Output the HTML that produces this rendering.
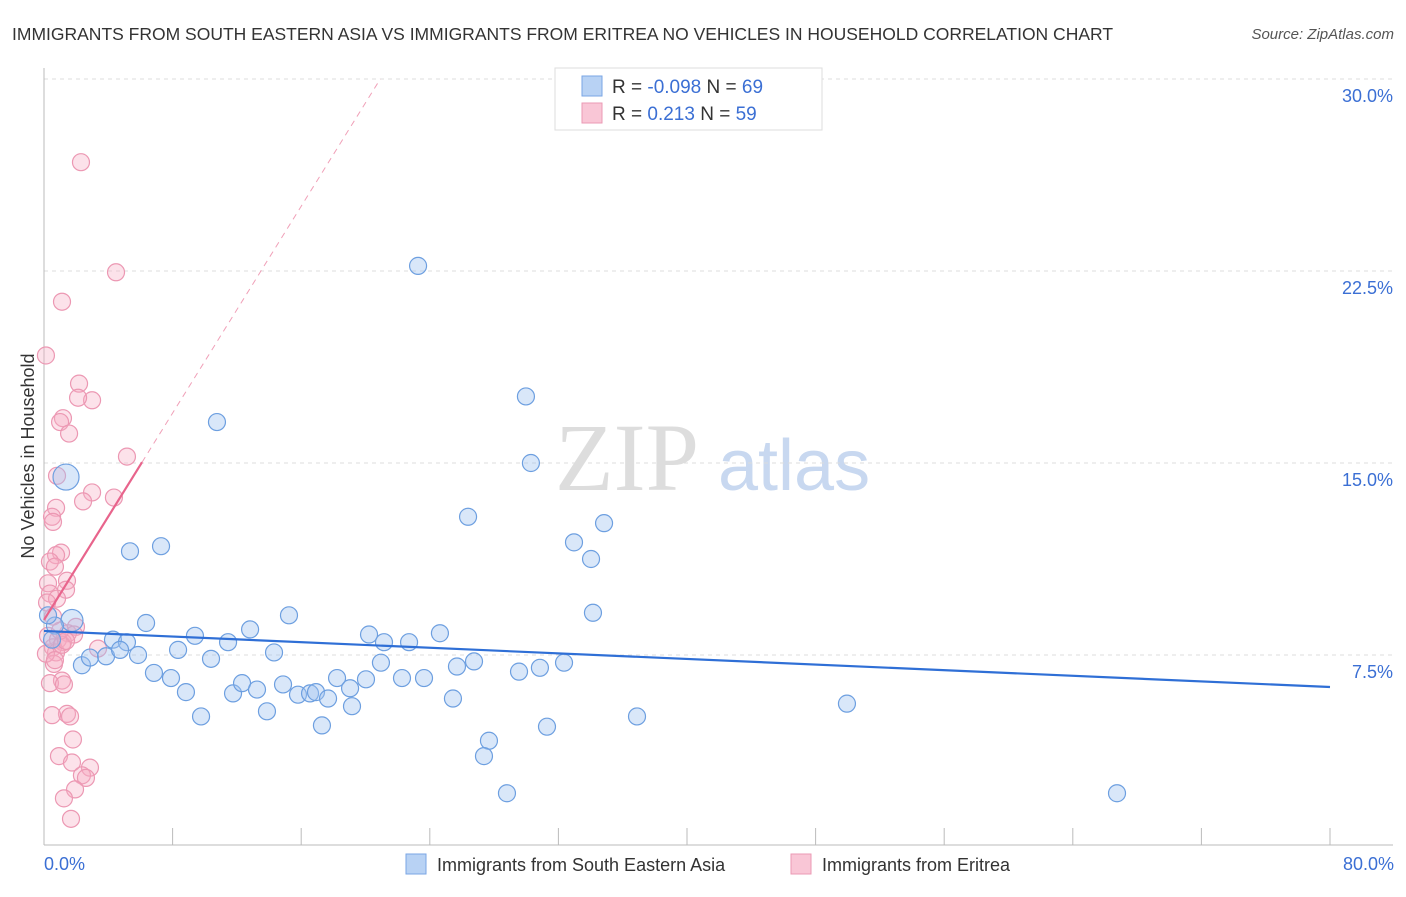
<!DOCTYPE html>
<html><head><meta charset="utf-8"><style>
body{margin:0;background:#fff;font-family:"Liberation Sans",sans-serif;}
</style></head><body>
<svg width="1406" height="892" xmlns="http://www.w3.org/2000/svg">
<text x="12" y="40" font-size="17.5" fill="#333">IMMIGRANTS FROM SOUTH EASTERN ASIA VS IMMIGRANTS FROM ERITREA NO VEHICLES IN HOUSEHOLD CORRELATION CHART</text>
<text x="1394" y="39" font-size="15" fill="#555" text-anchor="end" font-style="italic">Source: ZipAtlas.com</text>
<text x="555" y="490" font-size="96" fill="#ddd" font-family="Liberation Serif,serif">ZIP</text>
<text x="718" y="490" font-size="72" fill="#c8d8f0">atlas</text>
<g id="grid"></g><g id="axes"></g><g id="marks"></g>
<text transform="translate(34,456) rotate(-90)" font-size="18" fill="#333" text-anchor="middle">No Vehicles in Household</text>
<text x="44" y="870" font-size="18" fill="#3b6fd4">0.0%</text>
<text x="1394" y="870" font-size="18" fill="#3b6fd4" text-anchor="end">80.0%</text>
<g>
<rect x="555" y="68" width="267" height="62" fill="#fff" stroke="#ddd"/>
<rect x="582" y="76" width="20" height="20" fill="#b8d2f4" stroke="#7aa6e4"/>
<rect x="582" y="103" width="20" height="20" fill="#f9c6d6" stroke="#eb9ab4"/>
<text x="612" y="93" font-size="19" fill="#333">R = <tspan fill="#3b6fd4">-0.098</tspan>   N = <tspan fill="#3b6fd4">69</tspan></text>
<text x="612" y="120" font-size="19" fill="#333">R =   <tspan fill="#3b6fd4">0.213</tspan>   N = <tspan fill="#3b6fd4">59</tspan></text>
</g>
<g>
<rect x="406" y="854" width="20" height="20" fill="#b8d2f4" stroke="#7aa6e4"/>
<text x="437" y="871" font-size="18" fill="#333">Immigrants from South Eastern Asia</text>
<rect x="791" y="854" width="20" height="20" fill="#f9c6d6" stroke="#eb9ab4"/>
<text x="822" y="871" font-size="18" fill="#333">Immigrants from Eritrea</text>
</g>
</svg>
<script>
const yTicks=[7.5,15,22.5,30];
const yTickLabels=["7.5%","15.0%","22.5%","30.0%"];
const xTicks=[0,8,16,24,32,40,48,56,64,72,80];
const blueX=[23.27,10.76,29.98,30.29,26.38,34.84,32.97,34.03,34.15,5.35,7.28,1.37,1.74,0.68,6.35,15.24,12.82,9.39,4.29,5.16,11.45,24.63,20.22,22.71,21.15,2.36,2.86,3.86,4.73,5.85,8.34,10.39,14.31,6.84,7.9,8.83,11.76,12.32,13.25,14.87,15.8,16.55,16.92,17.67,18.23,19.04,19.16,20.03,20.96,22.27,23.64,25.69,26.75,25.44,29.55,30.85,32.35,9.77,13.87,17.29,27.68,27.37,31.29,36.89,28.8,49.95,66.75,0.5,0.25];
const blueY=[22.7,16.6,17.6,15.0,12.9,12.65,11.9,11.25,9.15,11.55,11.75,14.45,8.85,8.65,8.75,9.05,8.5,8.25,8.1,8.0,8.0,8.35,8.3,8.0,8.0,7.1,7.4,7.45,7.7,7.5,7.7,7.35,7.6,6.8,6.6,6.05,6.0,6.4,6.15,6.35,5.95,6.0,6.05,5.8,6.6,6.2,5.5,6.55,7.2,6.6,6.6,7.05,7.25,5.8,6.85,7.0,7.2,5.1,5.3,4.75,4.15,3.55,4.7,5.1,2.1,5.6,2.1,8.1,9.05];
const pinkX=[2.3,4.48,1.12,0.12,2.18,2.99,2.12,1.18,1.0,1.56,5.16,0.81,2.99,4.35,2.43,0.75,0.5,0.56,1.06,0.75,0.37,0.68,1.43,1.37,0.25,0.37,0.81,0.19,0.56,1.99,1.49,0.25,0.87,1.18,0.56,0.75,3.36,0.62,0.12,1.12,0.37,1.24,1.43,0.5,1.62,1.8,0.93,1.74,2.86,2.36,2.61,1.93,1.24,1.68,1.12,1.87,1.0,1.37,0.68];
const pinkY=[26.75,22.45,21.3,19.2,18.1,17.45,17.55,16.75,16.6,16.15,15.25,14.5,13.85,13.65,13.5,13.25,12.9,12.7,11.5,11.4,11.15,10.95,10.4,10.05,10.3,9.9,9.7,9.55,9.0,8.6,8.35,8.25,8.1,8.0,7.8,7.6,7.75,7.15,7.55,6.5,6.4,6.35,5.2,5.15,5.1,4.2,3.55,3.3,3.1,2.8,2.7,2.25,1.9,1.1,7.9,8.3,8.45,8.05,7.3];
const blueTrend=[8.44,6.25];
const pinkTrend=[8.87,1.01];
const NS="http://www.w3.org/2000/svg";
const X=v=>44+v/80*1286, Y=v=>847-v/7.5*192;
function mk(t,a,p){const e=document.createElementNS(NS,t);for(const k in a)e.setAttribute(k,a[k]);document.getElementById(p).appendChild(e);return e;}
yTicks.forEach((t,i)=>{
 let l=mk('line',{x1:44,x2:1393,y1:Y(t),y2:Y(t),stroke:'#ddd','stroke-dasharray':'4,4'},'grid');
 
 
 let tx=mk('text',{x:1393,y:Y(t)+23,'font-size':18,fill:'#3b6fd4','text-anchor':'end'},'grid');tx.textContent=yTickLabels[i];
 
 
});
let ya=mk('line',{x1:44,x2:44,y1:68,y2:845,stroke:'#bbb'},'axes');


let xa=mk('line',{x1:44,x2:1393,y1:845,y2:845,stroke:'#bbb'},'axes');


xTicks.forEach(t=>{let l=mk('line',{x1:X(t),x2:X(t),y1:828,y2:845,stroke:'#bbb'},'axes');
 
 });
pinkX.forEach((v,i)=>{const c=mk('circle',{cx:X(v),cy:Y(pinkY[i]),r:8.5,fill:'rgba(246,172,196,0.35)',stroke:'#ec98b3','stroke-width':1.2},'marks');
 
 });
blueX.forEach((v,i)=>{const big=i==11?13:(i==12?11:8.5);const c=mk('circle',{cx:X(v),cy:Y(blueY[i]),r:big,fill:'rgba(160,196,240,0.4)',stroke:'#6d9fe0','stroke-width':1.2},'marks');
 
 });
let bl=mk('line',{x1:X(0),y1:Y(blueTrend[0]),x2:X(80),y2:Y(blueTrend[1]),stroke:'#2f6fd6','stroke-width':2.2},'marks');


const pEnd=(30-pinkTrend[0])/pinkTrend[1];
let pd=mk('line',{x1:X(6.1),y1:Y(pinkTrend[0]+pinkTrend[1]*6.1),x2:X(pEnd),y2:Y(30),stroke:'#f0a0b8','stroke-width':1,'stroke-dasharray':'6,5'},'marks');


let ps=mk('line',{x1:X(0),y1:Y(pinkTrend[0]),x2:X(6.1),y2:Y(pinkTrend[0]+pinkTrend[1]*6.1),stroke:'#e8648c','stroke-width':2.2},'marks');


</script>
</body></html>
